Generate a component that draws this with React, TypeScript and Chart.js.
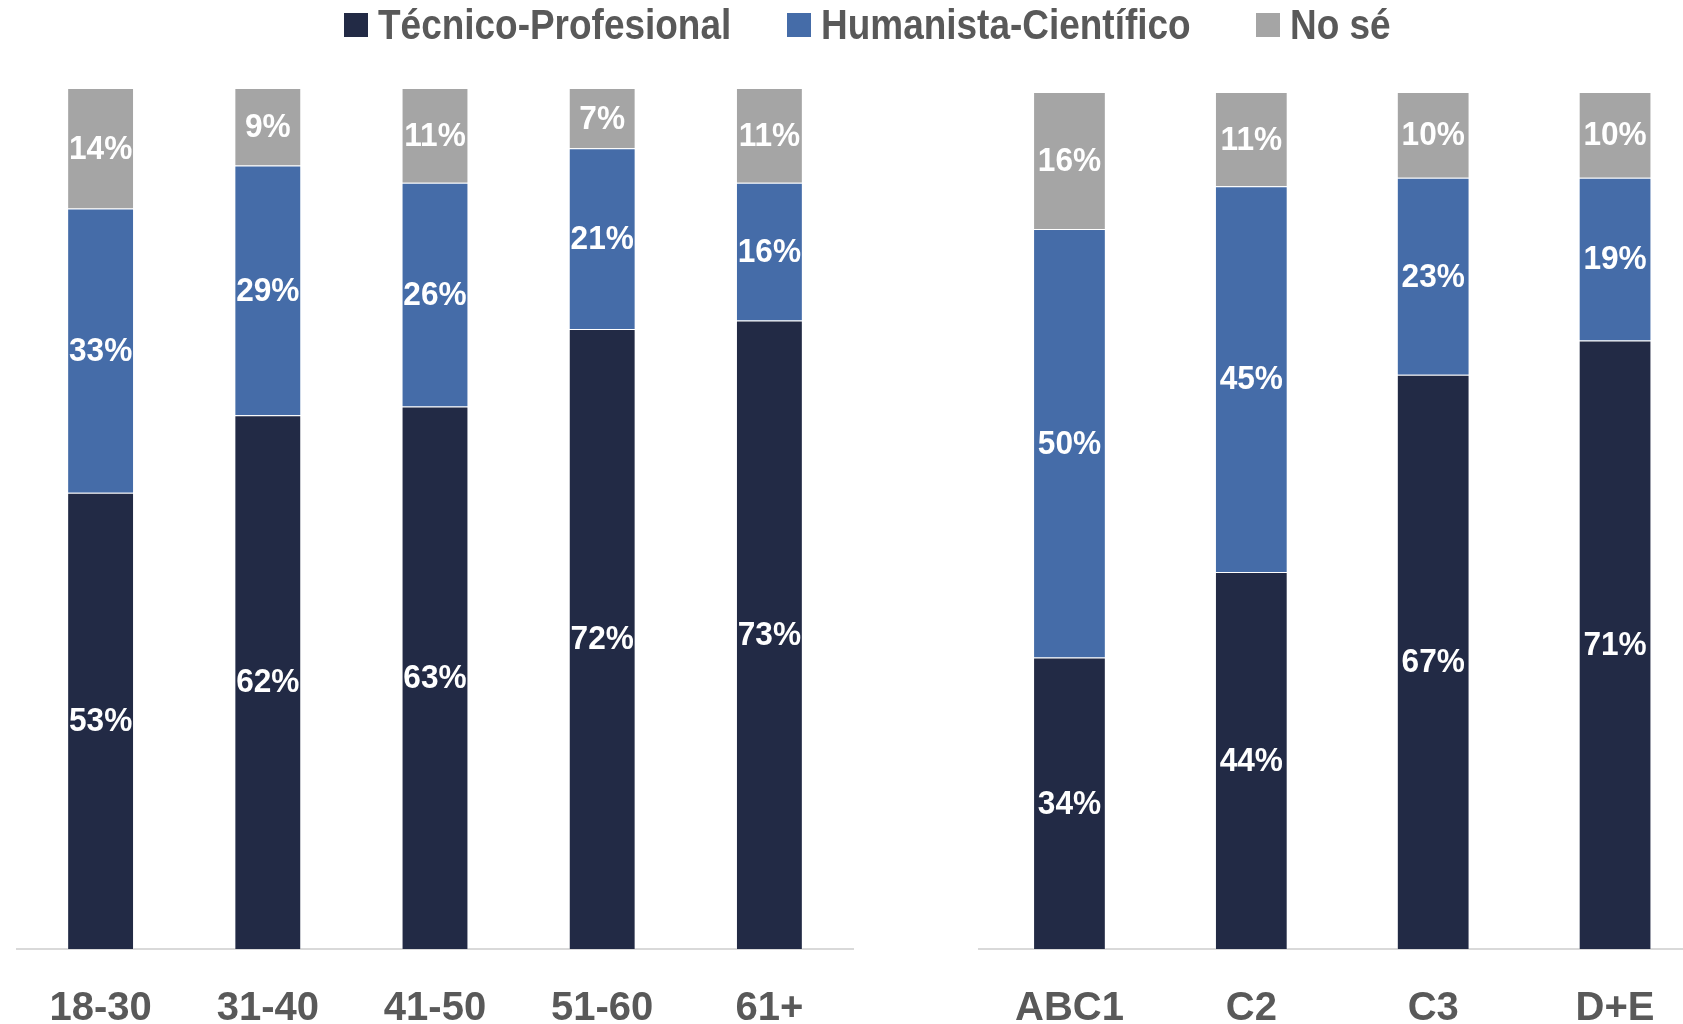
import React, { useEffect, useRef } from "react";
import { Chart, registerables } from "chart.js";

Chart.register(...registerables);

const FONT = "'Liberation Sans', Arial, sans-serif";

const seriesNames = ["Técnico-Profesional", "Humanista-Científico", "No sé"];
const seriesColors = ["#222A45", "#456CA8", "#A5A5A5"];

const ageCategories = ["18-30", "31-40", "41-50", "51-60", "61+"];
const ageTecnico = [53, 62, 63, 72, 73];
const ageHumanista = [33, 29, 26, 21, 16];
const ageNoSe = [14, 9, 11, 7, 11];

const gseCategories = ["ABC1", "C2", "C3", "D+E"];
const gseTecnico = [34, 44, 67, 71];
const gseHumanista = [50, 45, 23, 19];
const gseNoSe = [16, 11, 10, 10];

const segLabels = {
  id: "segLabels",
  afterDatasetsDraw(chart: any) {
    const ctx = chart.ctx;
    const sx = 0.93;
    chart.data.datasets.forEach((ds: any, di: number) => {
      const meta = chart.getDatasetMeta(di);
      meta.data.forEach((el: any, i: number) => {
        const p = el.getProps(["x", "y", "base"], true);
        ctx.save();
        ctx.font = `bold 34px ${FONT}`;
        ctx.fillStyle = "#ffffff";
        ctx.textAlign = "center";
        ctx.textBaseline = "middle";
        ctx.translate(p.x, (p.y + p.base) / 2 + 1);
        ctx.scale(sx, 1);
        ctx.fillText(ds.data[i] + "%", 0, 0);
        ctx.restore();
      });
    });
  },
};

function makeConfig(labels: string[], t: number[], h: number[], n: number[], padLeft: number, padRight: number, padTop: number) {
  const sets = [t, h, n];
  return {
    type: "bar" as const,
    data: {
      labels,
      datasets: sets.map((d, i) => ({
        label: seriesNames[i],
        data: d,
        backgroundColor: seriesColors[i],
        borderColor: "rgba(255,255,255,0.35)",
        borderWidth: 1,
        categoryPercentage: 1,
        barPercentage: 0.4,
      })),
    },
    options: {
      responsive: false,
      animation: false as const,
      layout: { padding: { left: padLeft, right: padRight, top: padTop, bottom: 0 } },
      plugins: { legend: { display: false }, tooltip: { enabled: false } },
      scales: {
        x: {
          stacked: true,
          grid: { display: false, drawTicks: false },
          border: { display: true, color: "#D9D9D9", width: 2 },
          ticks: {
            color: "#595959",
            autoSkip: false,
            maxRotation: 0,
            padding: 40,
            font: { family: FONT, size: 40, weight: "bold" as const, lineHeight: 1 },
          },
        },
        y: { stacked: true, display: false, min: 0, max: 100 },
      },
    },
    plugins: [segLabels],
  };
}

export default function App() {
  const leftRef = useRef<HTMLCanvasElement>(null);
  const rightRef = useRef<HTMLCanvasElement>(null);

  useEffect(() => {
    const c1 = new Chart(leftRef.current!, makeConfig(ageCategories, ageTecnico, ageHumanista, ageNoSe, 17, 17, 88) as any);
    const c2 = new Chart(rightRef.current!, makeConfig(gseCategories, gseTecnico, gseHumanista, gseNoSe, 0, 0, 92) as any);
    return () => {
      c1.destroy();
      c2.destroy();
    };
  }, []);

  const legendLeft = [344, 787, 1256];

  return (
    <div style={{ position: "fixed", left: 0, top: 0, width: 1683, height: 1024, overflow: "hidden", background: "#fff" }}>
      <canvas ref={leftRef} width={870} height={1069} style={{ position: "absolute", left: 0, top: 0 }} />
      <canvas ref={rightRef} width={731} height={1069} style={{ position: "absolute", left: 975, top: 0 }} />
      {seriesNames.map((name, i) => (
        <div
          key={name}
          style={{
            position: "absolute",
            left: legendLeft[i],
            top: 0,
            height: 50,
            display: "flex",
            alignItems: "center",
            fontFamily: FONT,
            fontWeight: "bold",
            fontSize: 42,
            color: "#595959",
            whiteSpace: "nowrap",
          }}
        >
          <span style={{ display: "inline-block", width: 24, height: 24, background: seriesColors[i], marginRight: 10, flex: "none" }} />
          <span style={{ display: "inline-block", transform: "scaleX(0.88)", transformOrigin: "left center" }}>{name}</span>
        </div>
      ))}
    </div>
  );
}
